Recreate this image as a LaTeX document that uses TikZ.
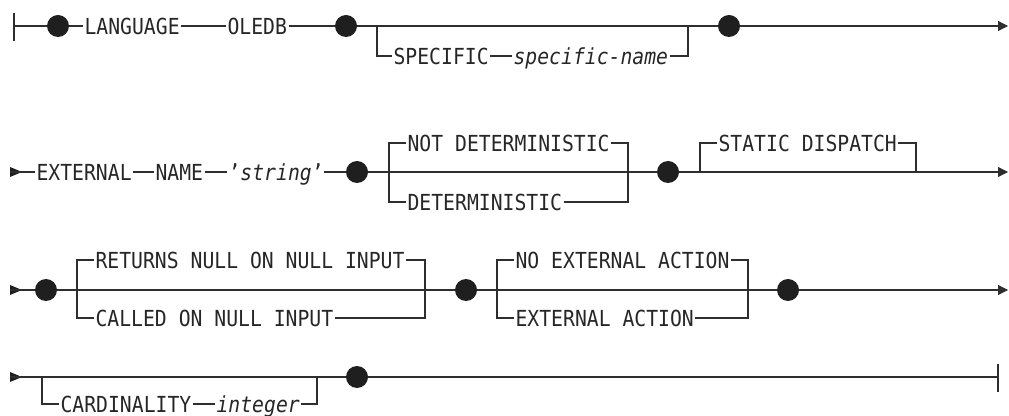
\documentclass[tikz,border=0pt]{standalone}
\usepackage{graphicx}
\usepackage{fontspec}
\newfontfamily\rrfont{DejaVu Sans Mono}
\usetikzlibrary{arrows.meta}
\newcommand{\rt}[1]{\scalebox{1}[1.12]{#1}}
\tikzset{
  rail/.style={line width=0.8pt, draw=black!82},
  dot/.style={circle, fill=black!88, inner sep=0pt, minimum size=16.5pt},
  kw/.style={anchor=west, inner xsep=1pt, inner ysep=0pt, text height=12.1pt, text depth=0pt,
             text=black!85, font=\rrfont\fontsize{14.8pt}{16pt}\selectfont},
  endarrow/.style={-{Triangle[length=7.5pt,width=7.5pt]}},
  starttri/.style={fill=black!88},
}
\begin{document}
\begin{tikzpicture}[x=0.75pt,y=-0.75pt]
\useasboundingbox (0,0) rectangle (1009,416);

% ---------------- Row 1 ----------------
\coordinate (s1t) at (14,13);
\coordinate (s1b) at (14,41);
\coordinate (s1) at (14,26);
\node[dot] (d1a) at (58,26) {};
\node[kw] (lang) at (83,26) {\rt{LANGUAGE}};
\node[kw] (oledb) at (226,26) {\rt{OLEDB}};
\node[dot] (d1b) at (346,26) {};
\coordinate (b1l) at (377,26);
\coordinate (b1r) at (688,26);
\node[kw] (spec) at (392,56) {\rt{SPECIFIC}};
\node[kw] (specname) at (512,56) {\rt{\itshape specific-name}};
\node[dot] (d1c) at (729,26) {};
\coordinate (e1) at (1008,26);

\draw[rail] (s1t) -- (s1b);
\draw[rail] (s1) -- (d1a) -- (lang);
\draw[rail] (lang) -- (oledb);
\draw[rail] (oledb) -- (d1b);
\draw[rail] (d1b) -- (d1c);
\draw[rail] (b1l) |- (spec.west);
\draw[rail] (spec) -- (specname);
\draw[rail] (specname.east) -| (b1r);
\draw[rail,endarrow] (d1c) -- (e1);

% ---------------- Row 2 ----------------
\coordinate (a2) at (10,172);
\node[kw] (ext) at (35,172) {\rt{EXTERNAL}};
\node[kw] (name) at (154,172) {\rt{NAME}};
\node[kw] (str) at (227,172) {\rt{’\textit{string}’}};
\coordinate (c2) at (324,172);
\node[dot] (d2a) at (357,172) {};
\coordinate (b2l) at (389,172);
\coordinate (b2r) at (628,172);
\node[kw] (notdet) at (406,143) {\rt{NOT DETERMINISTIC}};
\node[kw] (det) at (406,202) {\rt{DETERMINISTIC}};
\node[dot] (d2b) at (668,172) {};
\coordinate (b2l2) at (700,172);
\coordinate (b2r2) at (916,172);
\node[kw] (static) at (717,143) {\rt{STATIC DISPATCH}};
\coordinate (e2) at (1008,172);

\fill[starttri] (a2) -- ++(0,-5) -- ++(12,5) -- ++(-12,5) -- cycle;
\draw[rail] (a2) -- (ext);
\draw[rail] (ext) -- (name);
\draw[rail] (name) -- (str);
\draw[rail] (c2) -- (d2a);
\draw[rail] (d2a) -- (d2b);
\draw[rail] (b2l) |- (notdet.west);
\draw[rail] (notdet.east) -| (b2r);
\draw[rail] (b2l) |- (det.west);
\draw[rail] (det.east) -| (b2r);
\draw[rail,endarrow] (d2b) -- (e2);
\draw[rail] (b2l2) |- (static.west);
\draw[rail] (static.east) -| (b2r2);

% ---------------- Row 3 ----------------
\coordinate (a3) at (10,290);
\node[dot] (d3a) at (46,290) {};
\coordinate (b3l) at (77,290);
\coordinate (b3r) at (425,290);
\node[kw] (retnull) at (94,260) {\rt{RETURNS NULL ON NULL INPUT}};
\node[kw] (called) at (94,318) {\rt{CALLED ON NULL INPUT}};
\node[dot] (d3b) at (466,290) {};
\coordinate (b3l2) at (497,290);
\coordinate (b3r2) at (748,290);
\node[kw] (noext) at (514,260) {\rt{NO EXTERNAL ACTION}};
\node[kw] (extact) at (514,318) {\rt{EXTERNAL ACTION}};
\node[dot] (d3c) at (788,290) {};
\coordinate (e3) at (1008,290);

\fill[starttri] (a3) -- ++(0,-5) -- ++(12,5) -- ++(-12,5) -- cycle;
\draw[rail] (a3) -- (d3a);
\draw[rail] (d3a) -- (d3b);
\draw[rail] (b3l) |- (retnull.west);
\draw[rail] (retnull.east) -| (b3r);
\draw[rail] (b3l) |- (called.west);
\draw[rail] (called.east) -| (b3r);
\draw[rail] (d3b) -- (d3c);
\draw[rail] (b3l2) |- (noext.west);
\draw[rail] (noext.east) -| (b3r2);
\draw[rail] (b3l2) |- (extact.west);
\draw[rail] (extact.east) -| (b3r2);
\draw[rail,endarrow] (d3c) -- (e3);

% ---------------- Row 4 ----------------
\coordinate (a4) at (10,377);
\coordinate (b4l) at (42,377);
\coordinate (b4r) at (317,377);
\node[kw] (card) at (59,404) {\rt{CARDINALITY}};
\node[kw] (intg) at (215,404) {\rt{\itshape integer}};
\node[dot] (d4) at (357,377) {};
\coordinate (e4) at (998,377);
\coordinate (e4t) at (998,364);
\coordinate (e4b) at (998,392);

\fill[starttri] (a4) -- ++(0,-5) -- ++(12,5) -- ++(-12,5) -- cycle;
\draw[rail] (a4) -- (d4);
\draw[rail] (b4l) |- (card.west);
\draw[rail] (card) -- (intg);
\draw[rail] (intg.east) -| (b4r);
\draw[rail] (d4) -- (e4);
\draw[rail] (e4t) -- (e4b);
\end{tikzpicture}
\end{document}
